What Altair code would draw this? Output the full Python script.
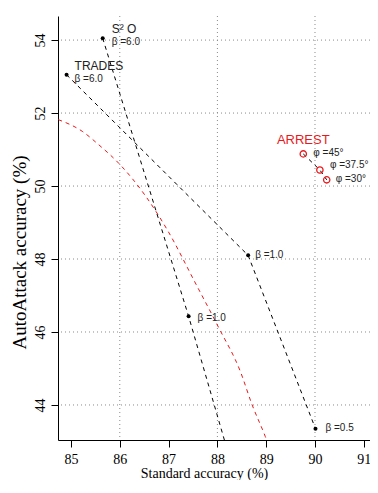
import altair as alt
import pandas as pd

# ---------------- data ----------------
x_ticks = [85, 86, 87, 88, 89, 90, 91]
y_ticks = [44, 46, 48, 50, 52, 54]
grid_x = [86, 88, 90]
grid_y = [44, 46, 48, 50, 52, 54]

trades_acc = [84.91, 88.63, 90.01]
trades_aa = [53.05, 48.10, 43.35]
trades_labels = ["β =6.0", "β =1.0", "β =0.5"]

s2o_acc = [85.65, 87.41, 88.26]
s2o_aa = [54.05, 46.43, 42.50]
s2o_labels = ["β =6.0", "β =1.0", ""]
s2o_marked = [True, True, False]

arrest_acc = [89.76, 90.10, 90.24]
arrest_aa = [50.88, 50.44, 50.17]
arrest_labels = ["φ =45°", "φ =37.5°", "φ =30°"]

frontier_acc = [84.74, 85.23, 85.57, 86.01, 86.51, 86.99, 87.53, 88.03, 88.47, 88.71, 88.98, 89.02]
frontier_aa = [51.82, 51.50, 51.13, 50.58, 49.76, 48.76, 47.39, 46.11, 44.92, 44.01, 43.14, 43.00]

method_names = ["TRADES", "S² O", "ARREST"]

# ---------------- tables ----------------
trades = pd.DataFrame({"x": trades_acc, "y": trades_aa, "label": trades_labels,
                       "i": list(range(len(trades_acc)))})
s2o = pd.DataFrame({"x": s2o_acc, "y": s2o_aa, "label": s2o_labels, "marked": s2o_marked,
                    "i": list(range(len(s2o_acc)))})
arrest = pd.DataFrame({"x": arrest_acc, "y": arrest_aa, "label": arrest_labels,
                       "i": list(range(len(arrest_acc)))})
frontier = pd.DataFrame({"x": frontier_acc, "y": frontier_aa,
                         "i": list(range(len(frontier_acc)))})

SERIF = "Liberation Serif"
SANS = "Liberation Sans"

xs = alt.Scale(domain=[84.734, 91.127], nice=False, zero=False)
ys = alt.Scale(domain=[43.04, 54.66], nice=False, zero=False)

xaxis = alt.Axis(values=x_ticks, grid=False, format="d", title="Standard accuracy (%)",
                 domainColor="black", domainWidth=1, tickColor="black", tickWidth=1, tickSize=7,
                 labelFont=SERIF, labelFontSize=14, labelColor="black", labelPadding=5,
                 labelFlush=False, labelOverlap=False,
                 titleFont=SERIF, titleFontSize=14, titleFontWeight="normal", titleColor="black",
                 titleX=146, titleY=37, titleBaseline="alphabetic", titleAlign="center")
yaxis = alt.Axis(values=y_ticks, grid=False, format="d", title="AutoAttack accuracy (%)",
                 domainColor="black", domainWidth=1, tickColor="black", tickWidth=1, tickSize=7,
                 labelFont=SERIF, labelFontSize=14, labelColor="black", labelPadding=7,
                 labelAngle=270, labelAlign="center", labelBaseline="alphabetic",
                 labelFlush=False, labelOverlap=False,
                 titleFont=SERIF, titleFontSize=19, titleFontWeight="normal", titleColor="black",
                 titleAngle=270, titleX=-33, titleY=236, titleBaseline="alphabetic",
                 titleAlign="center")

X = alt.X("x:Q", scale=xs, axis=xaxis)
Y = alt.Y("y:Q", scale=ys, axis=yaxis)

layers = []

# grid
layers.append(alt.Chart(pd.DataFrame({"x": grid_x})).mark_rule(
    color="#8a8a8a", strokeDash=[1, 3], strokeWidth=1).encode(x=X))
layers.append(alt.Chart(pd.DataFrame({"y": grid_y})).mark_rule(
    color="#8a8a8a", strokeDash=[1, 3], strokeWidth=1).encode(y=Y))

# frontier curve
layers.append(alt.Chart(frontier).mark_line(
    color="#e8191c", strokeDash=[4, 4], strokeWidth=1, clip=True, interpolate="monotone"
).encode(x=X, y=Y, order="i:Q"))

# method lines
for df in (trades, s2o, arrest):
    layers.append(alt.Chart(df).mark_line(
        color="black", strokeDash=[4, 4], strokeWidth=1, clip=True
    ).encode(x=X, y=Y, order="i:Q"))

# points
layers.append(alt.Chart(trades).mark_point(
    filled=True, color="black", size=16, opacity=1).encode(x=X, y=Y))
layers.append(alt.Chart(s2o).transform_filter("datum.marked").mark_point(
    filled=True, color="black", size=16, opacity=1).encode(x=X, y=Y))
layers.append(alt.Chart(arrest).mark_point(
    filled=False, color="#e8191c", size=40, strokeWidth=1.3, opacity=1).encode(x=X, y=Y))


def label(df, idx, dx, dy, size=10, color="#222222", align="left", field="label",
          text=None, font=SANS):
    base = alt.Chart(df).transform_filter(f"datum.i == {idx}")
    mark = base.mark_text(align=align, baseline="middle", dx=dx, dy=dy, font=font,
                          fontSize=size, color=color)
    if text is None:
        return mark.encode(x=X, y=Y, text=f"{field}:N")
    return mark.encode(x=X, y=Y, text=alt.value(text))


# beta labels
layers.append(label(trades, 0, 8, 4))
layers.append(label(trades, 1, 7, 0))
layers.append(label(trades, 2, 10, -1))
layers.append(label(s2o, 0, 9, 4))
layers.append(label(s2o, 1, 9, 2))
# phi labels
layers.append(label(arrest, 0, 10, -1))
layers.append(label(arrest, 1, 10, -5))
layers.append(label(arrest, 2, 9, -1))
# method names
layers.append(label(trades, 0, 8, -9, size=12, text=method_names[0]))
layers.append(label(s2o, 0, 9, -9, size=12, text=method_names[1]))
layers.append(label(arrest, 0, 0, -14, size=13, color="#e8191c", align="center",
                    text=method_names[2]))

chart = alt.layer(*layers).properties(
    width=312, height=424,
    padding={"left": 50, "top": 8, "right": 0, "bottom": 40},
    autosize=alt.AutoSizeParams(type="none"),
    background="white",
).configure_view(stroke=None)

chart.save("out.html", embed_options={"renderer": "svg", "actions": False})
